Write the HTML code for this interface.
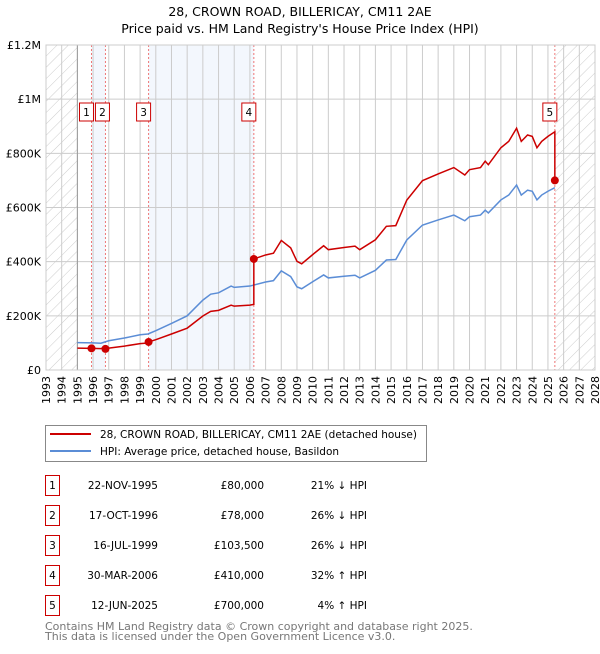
<!DOCTYPE html>
<html><head><meta charset="utf-8">
<style>
body{margin:0;background:#fff;font-family:"DejaVu Sans","Liberation Sans",sans-serif;}
svg text{font-family:"DejaVu Sans","Liberation Sans",sans-serif;}
</style></head>
<body>
<svg id="chart" width="600" height="650" xmlns="http://www.w3.org/2000/svg">
<defs>
<pattern id="hatch" width="8" height="8" patternUnits="userSpaceOnUse" patternTransform="rotate(45)">
<line x1="0" y1="0" x2="0" y2="8" stroke="#ccc" stroke-width="1"/>
</pattern>
</defs>
<text x="300" y="16" text-anchor="middle" font-size="12.5">28, CROWN ROAD, BILLERICAY, CM11 2AE</text>
<text x="300" y="33" text-anchor="middle" font-size="12.5">Price paid vs. HM Land Registry's House Price Index (HPI)</text>
<g id="plot"></g>
<g>
<rect x="45.5" y="425.5" width="381" height="36" fill="#fff" stroke="#888"/>
<line x1="50" y1="434" x2="91" y2="434" stroke="#cc0000" stroke-width="2"/>
<text x="100" y="438" font-size="10.5">28, CROWN ROAD, BILLERICAY, CM11 2AE (detached house)</text>
<line x1="50" y1="451" x2="91" y2="451" stroke="#5b8dd6" stroke-width="2"/>
<text x="100" y="455" font-size="10.5">HPI: Average price, detached house, Basildon</text>
</g>
<g id="table" font-size="10.5"></g>
<text x="45" y="630" font-size="11" fill="#777">Contains HM Land Registry data © Crown copyright and database right 2025.</text>
<text x="45" y="640" font-size="11" fill="#777">This data is licensed under the Open Government Licence v3.0.</text>
</svg>
<script>
const hpiYears=[1995.0,1996.0,1996.5,1997.0,1998.0,1999.0,1999.5,2000.0,2001.0,2002.0,2003.0,2003.5,2004.0,2004.8,2005.0,2006.0,2007.0,2007.5,2008.0,2008.6,2009.0,2009.3,2010.0,2010.7,2011.0,2012.0,2012.7,2013.0,2014.0,2014.7,2015.3,2016.0,2017.0,2018.0,2019.0,2019.7,2020.0,2020.7,2021.0,2021.2,2022.0,2022.5,2023.0,2023.3,2023.7,2024.0,2024.3,2024.6,2025.0,2025.44];
const hpiValues=[101000,100000,99000,108000,118000,130000,133000,145000,172000,200000,258000,280000,285000,310000,305000,310000,325000,330000,366000,345000,307000,300000,326000,351000,340000,346000,350000,340000,368000,406000,408000,480000,535000,554000,572000,551000,566000,572000,590000,580000,628000,646000,683000,646000,664000,660000,628000,646000,660000,673000];
const saleYears=[1995.9,1996.79,1999.54,2006.25,2025.44];
const salePrices=[80000,78000,103500,410000,700000];
const saleDates=["22-NOV-1995","17-OCT-1996","16-JUL-1999","30-MAR-2006","12-JUN-2025"];
const salePriceLabels=["£80,000","£78,000","£103,500","£410,000","£700,000"];
const saleHpiLabels=["21% ↓ HPI","26% ↓ HPI","26% ↓ HPI","32% ↑ HPI","4% ↑ HPI"];
const yTicks=[0,200000,400000,600000,800000,1000000,1200000];
const yTickLabels=["£0","£200K","£400K","£600K","£800K","£1M","£1.2M"];
const xStart=1993,xEnd=2028;

const L=46,R=595,T=45,B=370;
const X=v=>L+(v-xStart)/(xEnd-xStart)*(R-L);
const Y=v=>B-v/1200000*(B-T);
const NS="http://www.w3.org/2000/svg";
const plot=document.getElementById('plot');
function mk(tag,attrs,parent){const e=document.createElementNS(NS,tag);for(const k in attrs)e.setAttribute(k,attrs[k]);(parent||plot).appendChild(e);return e;}
function hpiAt(t){if(t<=hpiYears[0])return hpiValues[0];for(let i=1;i<hpiYears.length;i++){if(t<=hpiYears[i]){const f=(t-hpiYears[i-1])/(hpiYears[i]-hpiYears[i-1]);return hpiValues[i-1]+f*(hpiValues[i]-hpiValues[i-1]);}}return hpiValues[hpiValues.length-1];}

let e;
const firstHpi=hpiYears[0],lastHpi=hpiYears[hpiYears.length-1];
e=mk('rect',{x:L,y:T,width:X(firstHpi)-L,height:B-T,fill:'url(#hatch)'});


e=mk('rect',{x:X(lastHpi),y:T,width:R-X(lastHpi),height:B-T,fill:'url(#hatch)'});


[[0,1],[2,3]].forEach(p=>{
 e=mk('rect',{x:X(saleYears[p[0]]),y:T,width:X(saleYears[p[1]])-X(saleYears[p[0]]),height:B-T,fill:'#eef3fc',opacity:0.7});
 
 
});
for(let yr=xStart;yr<=xEnd;yr++){
 e=mk('line',{x1:X(yr),x2:X(yr),y1:T,y2:B,stroke:'#ccc','stroke-width':1});
 
 
 e=mk('text',{x:0,y:0,'font-size':11,'text-anchor':'end',transform:`translate(${X(yr)+4},${B+6}) rotate(-90)`});
 e.textContent=yr;
 
 
}
yTicks.forEach((v,i)=>{
 e=mk('line',{x1:L,x2:R,y1:Y(v),y2:Y(v),stroke:'#ccc','stroke-width':1});
 
 
 e=mk('text',{x:L-5,y:Y(v)+4,'font-size':11,'text-anchor':'end'});
 e.textContent=yTickLabels[i];
 
 
});
e=mk('line',{x1:X(firstHpi),x2:X(firstHpi),y1:T,y2:B,stroke:'#999','stroke-width':1});


saleYears.forEach((s,i)=>{
 e=mk('line',{x1:X(s),x2:X(s),y1:T,y2:B,stroke:'#ee7777','stroke-width':1,'stroke-dasharray':'2,2'});
 
 
});
e=mk('polyline',{points:hpiYears.map((t,i)=>X(t)+','+Y(hpiValues[i])).join(' '),fill:'none',stroke:'#5b8dd6','stroke-width':1.5});


const pts=[];
for(let s=0;s<saleYears.length;s++){
 const t0=saleYears[s],t1=s+1<saleYears.length?saleYears[s+1]:saleYears[s];
 const ratio=salePrices[s]/hpiAt(t0);
 const times=[t0].concat(hpiYears.filter(t=>t>t0&&t<t1)).concat(s+1<saleYears.length?[t1]:[]);
 times.forEach(t=>pts.push(X(t)+','+Y(hpiAt(t)*ratio)));
}
const r0=salePrices[0]/hpiAt(saleYears[0]);
pts.unshift(X(hpiYears[0])+','+Y(hpiValues[0]*r0));
e=mk('polyline',{points:pts.join(' '),fill:'none',stroke:'#cc0000','stroke-width':1.5});


saleYears.forEach((s,i)=>{
 e=mk('circle',{cx:X(s),cy:Y(salePrices[i]),r:4,fill:'#cc0000'});
 
 
 const bx=X(s)-12+(i==1?2:0);
 const g=mk('g',{});
 
 
 mk('rect',{x:bx,y:103,width:14,height:18,fill:'#fff',stroke:'#cc0000','stroke-width':1},g);
 const tx=mk('text',{x:bx+7,y:116,'font-size':10.5,'text-anchor':'middle'},g);
 tx.textContent=i+1;
});
e=mk('rect',{x:L,y:T,width:R-L,height:B-T,fill:'none',stroke:'#ccc'});


const tbl=document.getElementById('table');
saleYears.forEach((s,i)=>{
 const y0=475+i*30;
 const g=mk('g',{},tbl);
 
 
 mk('rect',{x:45.5,y:y0+0.5,width:14,height:20,fill:'#fff',stroke:'#cc0000'},g);
 let t=mk('text',{x:52.5,y:y0+14,'text-anchor':'middle'},g);t.textContent=i+1;
 t=mk('text',{x:158,y:y0+14,'text-anchor':'end'},g);t.textContent=saleDates[i];
 t=mk('text',{x:264,y:y0+14,'text-anchor':'end'},g);t.textContent=salePriceLabels[i];
 t=mk('text',{x:367,y:y0+14,'text-anchor':'end'},g);t.textContent=saleHpiLabels[i];
});
</script>
</body></html>
